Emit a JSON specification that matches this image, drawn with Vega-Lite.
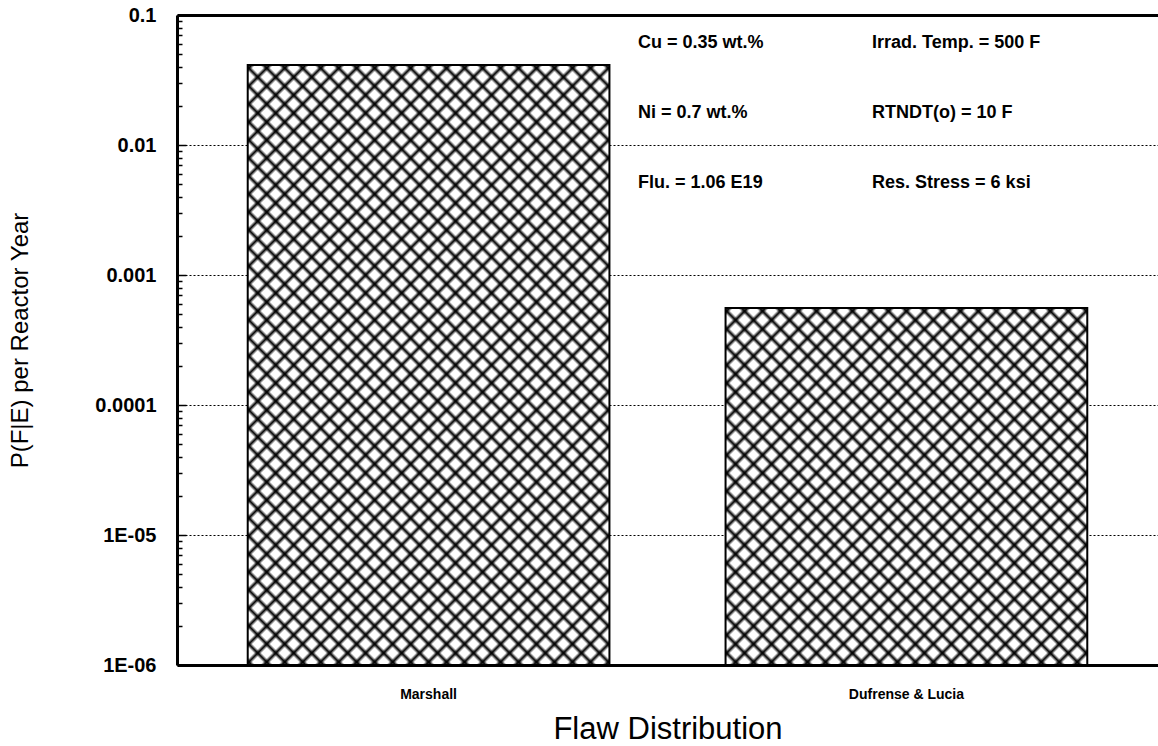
{
 "$schema": "https://vega.github.io/schema/vega-lite/v6.json",
 "width": 981,
 "height": 650,
 "autosize": "none",
 "padding": {"left": 177, "top": 15, "right": 0, "bottom": 81},
 "background": "white",
 "config": {"view": {"stroke": null}, "font": "Liberation Sans"},
 "datasets": {
  "bars": [
   {"dist": "Marshall", "p": 0.0412},
   {"dist": "Dufrense & Lucia", "p": 0.000557}
  ],
  "notes": [
   {"label": "Cu = 0.35 wt.%", "col": 0.47, "p": 0.061},
   {"label": "Irrad. Temp. = 500 F", "col": 0.7085, "p": 0.061},
   {"label": "Ni = 0.7 wt.%", "col": 0.47, "p": 0.0176},
   {"label": "RTNDT(o) = 10 F", "col": 0.7085, "p": 0.0176},
   {"label": "Flu. = 1.06 E19", "col": 0.47, "p": 0.0051},
   {"label": "Res. Stress = 6 ksi", "col": 0.7085, "p": 0.0051}
  ]
 },
 "layer": [
  {
   "data": {"name": "bars"},
   "encoding": {
    "x": {"field": "dist", "type": "nominal", "sort": ["Marshall", "Dufrense & Lucia"],
     "scale": {"paddingInner": 0.243, "paddingOuter": 0.148},
     "axis": {"title": "Flaw Distribution", "titleFontSize": 31, "titleFontWeight": "normal", "titleColor": "#000", "titlePadding": 13,
      "labelAngle": 0, "labelFontSize": 14, "labelFontWeight": "bold", "labelColor": "#000", "labelPadding": 22,
      "ticks": false, "domainWidth": 3, "domainColor": "#000", "grid": false}},
    "y": {"field": "p", "type": "quantitative", "stack": null,
     "scale": {"type": "log", "domain": [0.000001, 0.1], "nice": false},
     "axis": {"title": "P(F|E) per Reactor Year", "titleFontSize": 24, "titleFontWeight": "normal", "titleColor": "#000", "titlePadding": 62,
      "values": [0.000001, 0.000002, 0.000003, 0.000004, 0.000005, 0.000006, 0.000007, 0.000008, 0.000009,
                 0.00001, 0.00002, 0.00003, 0.00004, 0.00005, 0.00006, 0.00007, 0.00008, 0.00009,
                 0.0001, 0.0002, 0.0003, 0.0004, 0.0005, 0.0006, 0.0007, 0.0008, 0.0009,
                 0.001, 0.002, 0.003, 0.004, 0.005, 0.006, 0.007, 0.008, 0.009,
                 0.01, 0.02, 0.03, 0.04, 0.05, 0.06, 0.07, 0.08, 0.09, 0.1],
      "labelExpr": "abs(log(datum.value)/LN10 - round(log(datum.value)/LN10)) > 0.000001 ? '' : (datum.value < 0.000002 ? '1E-06' : datum.value < 0.00002 ? '1E-05' : datum.value < 0.0002 ? '0.0001' : datum.value < 0.002 ? '0.001' : datum.value < 0.02 ? '0.01' : '0.1')",
      "labelOverlap": false, "labelFontSize": 20, "labelFontWeight": "bold", "labelColor": "#000", "labelPadding": 30, "labelBaseline": "middle",
      "domainWidth": 3, "domainColor": "#000",
      "tickColor": "#000", "tickWidth": 1.5,
      "tickSize": {"condition": {"test": "abs(log(datum.value)/LN10 - round(log(datum.value)/LN10)) < 0.000001", "value": -9}, "value": -5},
      "grid": true, "gridColor": "#000", "gridDash": [2, 2], "gridWidth": 1.2,
      "gridOpacity": {"condition": {"test": "abs(log(datum.value)/LN10 - round(log(datum.value)/LN10)) < 0.000001", "value": 1}, "value": 0}}},
    "y2": {"datum": 0.000001}
   },
   "layer": [
    {
     "transform": [{"filter": "datum.dist == 'Marshall'"}],
     "mark": {"type": "bar", "stroke": null, "fill": {"gradient": "linear", "x1": 0, "y1": 0, "x2": 0.7166, "y2": 1.1877, "stops": [
{"offset":0,"color":"#fff"},{"offset":0.0041,"color":"#000"},{"offset":0.0082,"color":"#fff"},
{"offset":0.0185,"color":"#fff"},{"offset":0.0226,"color":"#000"},{"offset":0.0267,"color":"#fff"},
{"offset":0.0370,"color":"#fff"},{"offset":0.0411,"color":"#000"},{"offset":0.0452,"color":"#fff"},
{"offset":0.0556,"color":"#fff"},{"offset":0.0597,"color":"#000"},{"offset":0.0638,"color":"#fff"},
{"offset":0.0741,"color":"#fff"},{"offset":0.0782,"color":"#000"},{"offset":0.0823,"color":"#fff"},
{"offset":0.0926,"color":"#fff"},{"offset":0.0967,"color":"#000"},{"offset":0.1008,"color":"#fff"},
{"offset":0.1111,"color":"#fff"},{"offset":0.1152,"color":"#000"},{"offset":0.1193,"color":"#fff"},
{"offset":0.1296,"color":"#fff"},{"offset":0.1337,"color":"#000"},{"offset":0.1378,"color":"#fff"},
{"offset":0.1481,"color":"#fff"},{"offset":0.1522,"color":"#000"},{"offset":0.1563,"color":"#fff"},
{"offset":0.1667,"color":"#fff"},{"offset":0.1708,"color":"#000"},{"offset":0.1749,"color":"#fff"},
{"offset":0.1852,"color":"#fff"},{"offset":0.1893,"color":"#000"},{"offset":0.1934,"color":"#fff"},
{"offset":0.2037,"color":"#fff"},{"offset":0.2078,"color":"#000"},{"offset":0.2119,"color":"#fff"},
{"offset":0.2222,"color":"#fff"},{"offset":0.2263,"color":"#000"},{"offset":0.2304,"color":"#fff"},
{"offset":0.2407,"color":"#fff"},{"offset":0.2448,"color":"#000"},{"offset":0.2489,"color":"#fff"},
{"offset":0.2593,"color":"#fff"},{"offset":0.2634,"color":"#000"},{"offset":0.2675,"color":"#fff"},
{"offset":0.2778,"color":"#fff"},{"offset":0.2819,"color":"#000"},{"offset":0.2860,"color":"#fff"},
{"offset":0.2963,"color":"#fff"},{"offset":0.3004,"color":"#000"},{"offset":0.3045,"color":"#fff"},
{"offset":0.3148,"color":"#fff"},{"offset":0.3189,"color":"#000"},{"offset":0.3230,"color":"#fff"},
{"offset":0.3333,"color":"#fff"},{"offset":0.3374,"color":"#000"},{"offset":0.3415,"color":"#fff"},
{"offset":0.3519,"color":"#fff"},{"offset":0.3560,"color":"#000"},{"offset":0.3601,"color":"#fff"},
{"offset":0.3704,"color":"#fff"},{"offset":0.3745,"color":"#000"},{"offset":0.3786,"color":"#fff"},
{"offset":0.3889,"color":"#fff"},{"offset":0.3930,"color":"#000"},{"offset":0.3971,"color":"#fff"},
{"offset":0.4074,"color":"#fff"},{"offset":0.4115,"color":"#000"},{"offset":0.4156,"color":"#fff"},
{"offset":0.4259,"color":"#fff"},{"offset":0.4300,"color":"#000"},{"offset":0.4341,"color":"#fff"},
{"offset":0.4444,"color":"#fff"},{"offset":0.4485,"color":"#000"},{"offset":0.4526,"color":"#fff"},
{"offset":0.4630,"color":"#fff"},{"offset":0.4671,"color":"#000"},{"offset":0.4712,"color":"#fff"},
{"offset":0.4815,"color":"#fff"},{"offset":0.4856,"color":"#000"},{"offset":0.4897,"color":"#fff"},
{"offset":0.5000,"color":"#fff"},{"offset":0.5041,"color":"#000"},{"offset":0.5082,"color":"#fff"},
{"offset":0.5185,"color":"#fff"},{"offset":0.5226,"color":"#000"},{"offset":0.5267,"color":"#fff"},
{"offset":0.5370,"color":"#fff"},{"offset":0.5411,"color":"#000"},{"offset":0.5452,"color":"#fff"},
{"offset":0.5556,"color":"#fff"},{"offset":0.5597,"color":"#000"},{"offset":0.5638,"color":"#fff"},
{"offset":0.5741,"color":"#fff"},{"offset":0.5782,"color":"#000"},{"offset":0.5823,"color":"#fff"},
{"offset":0.5926,"color":"#fff"},{"offset":0.5967,"color":"#000"},{"offset":0.6008,"color":"#fff"},
{"offset":0.6111,"color":"#fff"},{"offset":0.6152,"color":"#000"},{"offset":0.6193,"color":"#fff"},
{"offset":0.6296,"color":"#fff"},{"offset":0.6337,"color":"#000"},{"offset":0.6378,"color":"#fff"},
{"offset":0.6481,"color":"#fff"},{"offset":0.6522,"color":"#000"},{"offset":0.6563,"color":"#fff"},
{"offset":0.6667,"color":"#fff"},{"offset":0.6708,"color":"#000"},{"offset":0.6749,"color":"#fff"},
{"offset":0.6852,"color":"#fff"},{"offset":0.6893,"color":"#000"},{"offset":0.6934,"color":"#fff"},
{"offset":0.7037,"color":"#fff"},{"offset":0.7078,"color":"#000"},{"offset":0.7119,"color":"#fff"},
{"offset":0.7222,"color":"#fff"},{"offset":0.7263,"color":"#000"},{"offset":0.7304,"color":"#fff"},
{"offset":0.7407,"color":"#fff"},{"offset":0.7448,"color":"#000"},{"offset":0.7489,"color":"#fff"},
{"offset":0.7593,"color":"#fff"},{"offset":0.7634,"color":"#000"},{"offset":0.7675,"color":"#fff"},
{"offset":0.7778,"color":"#fff"},{"offset":0.7819,"color":"#000"},{"offset":0.7860,"color":"#fff"},
{"offset":0.7963,"color":"#fff"},{"offset":0.8004,"color":"#000"},{"offset":0.8045,"color":"#fff"},
{"offset":0.8148,"color":"#fff"},{"offset":0.8189,"color":"#000"},{"offset":0.8230,"color":"#fff"},
{"offset":0.8333,"color":"#fff"},{"offset":0.8374,"color":"#000"},{"offset":0.8415,"color":"#fff"},
{"offset":0.8519,"color":"#fff"},{"offset":0.8560,"color":"#000"},{"offset":0.8601,"color":"#fff"},
{"offset":0.8704,"color":"#fff"},{"offset":0.8745,"color":"#000"},{"offset":0.8786,"color":"#fff"},
{"offset":0.8889,"color":"#fff"},{"offset":0.8930,"color":"#000"},{"offset":0.8971,"color":"#fff"},
{"offset":0.9074,"color":"#fff"},{"offset":0.9115,"color":"#000"},{"offset":0.9156,"color":"#fff"},
{"offset":0.9259,"color":"#fff"},{"offset":0.9300,"color":"#000"},{"offset":0.9341,"color":"#fff"},
{"offset":0.9444,"color":"#fff"},{"offset":0.9485,"color":"#000"},{"offset":0.9526,"color":"#fff"},
{"offset":0.9630,"color":"#fff"},{"offset":0.9671,"color":"#000"},{"offset":0.9712,"color":"#fff"},
{"offset":0.9815,"color":"#fff"},{"offset":0.9856,"color":"#000"},{"offset":0.9897,"color":"#fff"}
     ]}}
    },
    {
     "transform": [{"filter": "datum.dist == 'Marshall'"}],
     "mark": {"type": "bar", "stroke": "#000", "strokeWidth": 2, "fill": {"gradient": "linear", "x1": 1, "y1": 0, "x2": 0.2834, "y2": 1.1877, "stops": [
{"offset":0,"color":"transparent"},{"offset":0.0041,"color":"#000"},{"offset":0.0082,"color":"transparent"},
{"offset":0.0185,"color":"transparent"},{"offset":0.0226,"color":"#000"},{"offset":0.0267,"color":"transparent"},
{"offset":0.0370,"color":"transparent"},{"offset":0.0411,"color":"#000"},{"offset":0.0452,"color":"transparent"},
{"offset":0.0556,"color":"transparent"},{"offset":0.0597,"color":"#000"},{"offset":0.0638,"color":"transparent"},
{"offset":0.0741,"color":"transparent"},{"offset":0.0782,"color":"#000"},{"offset":0.0823,"color":"transparent"},
{"offset":0.0926,"color":"transparent"},{"offset":0.0967,"color":"#000"},{"offset":0.1008,"color":"transparent"},
{"offset":0.1111,"color":"transparent"},{"offset":0.1152,"color":"#000"},{"offset":0.1193,"color":"transparent"},
{"offset":0.1296,"color":"transparent"},{"offset":0.1337,"color":"#000"},{"offset":0.1378,"color":"transparent"},
{"offset":0.1481,"color":"transparent"},{"offset":0.1522,"color":"#000"},{"offset":0.1563,"color":"transparent"},
{"offset":0.1667,"color":"transparent"},{"offset":0.1708,"color":"#000"},{"offset":0.1749,"color":"transparent"},
{"offset":0.1852,"color":"transparent"},{"offset":0.1893,"color":"#000"},{"offset":0.1934,"color":"transparent"},
{"offset":0.2037,"color":"transparent"},{"offset":0.2078,"color":"#000"},{"offset":0.2119,"color":"transparent"},
{"offset":0.2222,"color":"transparent"},{"offset":0.2263,"color":"#000"},{"offset":0.2304,"color":"transparent"},
{"offset":0.2407,"color":"transparent"},{"offset":0.2448,"color":"#000"},{"offset":0.2489,"color":"transparent"},
{"offset":0.2593,"color":"transparent"},{"offset":0.2634,"color":"#000"},{"offset":0.2675,"color":"transparent"},
{"offset":0.2778,"color":"transparent"},{"offset":0.2819,"color":"#000"},{"offset":0.2860,"color":"transparent"},
{"offset":0.2963,"color":"transparent"},{"offset":0.3004,"color":"#000"},{"offset":0.3045,"color":"transparent"},
{"offset":0.3148,"color":"transparent"},{"offset":0.3189,"color":"#000"},{"offset":0.3230,"color":"transparent"},
{"offset":0.3333,"color":"transparent"},{"offset":0.3374,"color":"#000"},{"offset":0.3415,"color":"transparent"},
{"offset":0.3519,"color":"transparent"},{"offset":0.3560,"color":"#000"},{"offset":0.3601,"color":"transparent"},
{"offset":0.3704,"color":"transparent"},{"offset":0.3745,"color":"#000"},{"offset":0.3786,"color":"transparent"},
{"offset":0.3889,"color":"transparent"},{"offset":0.3930,"color":"#000"},{"offset":0.3971,"color":"transparent"},
{"offset":0.4074,"color":"transparent"},{"offset":0.4115,"color":"#000"},{"offset":0.4156,"color":"transparent"},
{"offset":0.4259,"color":"transparent"},{"offset":0.4300,"color":"#000"},{"offset":0.4341,"color":"transparent"},
{"offset":0.4444,"color":"transparent"},{"offset":0.4485,"color":"#000"},{"offset":0.4526,"color":"transparent"},
{"offset":0.4630,"color":"transparent"},{"offset":0.4671,"color":"#000"},{"offset":0.4712,"color":"transparent"},
{"offset":0.4815,"color":"transparent"},{"offset":0.4856,"color":"#000"},{"offset":0.4897,"color":"transparent"},
{"offset":0.5000,"color":"transparent"},{"offset":0.5041,"color":"#000"},{"offset":0.5082,"color":"transparent"},
{"offset":0.5185,"color":"transparent"},{"offset":0.5226,"color":"#000"},{"offset":0.5267,"color":"transparent"},
{"offset":0.5370,"color":"transparent"},{"offset":0.5411,"color":"#000"},{"offset":0.5452,"color":"transparent"},
{"offset":0.5556,"color":"transparent"},{"offset":0.5597,"color":"#000"},{"offset":0.5638,"color":"transparent"},
{"offset":0.5741,"color":"transparent"},{"offset":0.5782,"color":"#000"},{"offset":0.5823,"color":"transparent"},
{"offset":0.5926,"color":"transparent"},{"offset":0.5967,"color":"#000"},{"offset":0.6008,"color":"transparent"},
{"offset":0.6111,"color":"transparent"},{"offset":0.6152,"color":"#000"},{"offset":0.6193,"color":"transparent"},
{"offset":0.6296,"color":"transparent"},{"offset":0.6337,"color":"#000"},{"offset":0.6378,"color":"transparent"},
{"offset":0.6481,"color":"transparent"},{"offset":0.6522,"color":"#000"},{"offset":0.6563,"color":"transparent"},
{"offset":0.6667,"color":"transparent"},{"offset":0.6708,"color":"#000"},{"offset":0.6749,"color":"transparent"},
{"offset":0.6852,"color":"transparent"},{"offset":0.6893,"color":"#000"},{"offset":0.6934,"color":"transparent"},
{"offset":0.7037,"color":"transparent"},{"offset":0.7078,"color":"#000"},{"offset":0.7119,"color":"transparent"},
{"offset":0.7222,"color":"transparent"},{"offset":0.7263,"color":"#000"},{"offset":0.7304,"color":"transparent"},
{"offset":0.7407,"color":"transparent"},{"offset":0.7448,"color":"#000"},{"offset":0.7489,"color":"transparent"},
{"offset":0.7593,"color":"transparent"},{"offset":0.7634,"color":"#000"},{"offset":0.7675,"color":"transparent"},
{"offset":0.7778,"color":"transparent"},{"offset":0.7819,"color":"#000"},{"offset":0.7860,"color":"transparent"},
{"offset":0.7963,"color":"transparent"},{"offset":0.8004,"color":"#000"},{"offset":0.8045,"color":"transparent"},
{"offset":0.8148,"color":"transparent"},{"offset":0.8189,"color":"#000"},{"offset":0.8230,"color":"transparent"},
{"offset":0.8333,"color":"transparent"},{"offset":0.8374,"color":"#000"},{"offset":0.8415,"color":"transparent"},
{"offset":0.8519,"color":"transparent"},{"offset":0.8560,"color":"#000"},{"offset":0.8601,"color":"transparent"},
{"offset":0.8704,"color":"transparent"},{"offset":0.8745,"color":"#000"},{"offset":0.8786,"color":"transparent"},
{"offset":0.8889,"color":"transparent"},{"offset":0.8930,"color":"#000"},{"offset":0.8971,"color":"transparent"},
{"offset":0.9074,"color":"transparent"},{"offset":0.9115,"color":"#000"},{"offset":0.9156,"color":"transparent"},
{"offset":0.9259,"color":"transparent"},{"offset":0.9300,"color":"#000"},{"offset":0.9341,"color":"transparent"},
{"offset":0.9444,"color":"transparent"},{"offset":0.9485,"color":"#000"},{"offset":0.9526,"color":"transparent"},
{"offset":0.9630,"color":"transparent"},{"offset":0.9671,"color":"#000"},{"offset":0.9712,"color":"transparent"},
{"offset":0.9815,"color":"transparent"},{"offset":0.9856,"color":"#000"},{"offset":0.9897,"color":"transparent"}
     ]}}
    },
    {
     "transform": [{"filter": "datum.dist == 'Dufrense & Lucia'"}],
     "mark": {"type": "bar", "stroke": null, "fill": {"gradient": "linear", "x1": 0, "y1": 0, "x2": 1.0083, "y2": 0.9944, "stops": [
{"offset":0,"color":"#fff"},{"offset":0.0056,"color":"#000"},{"offset":0.0111,"color":"#fff"},
{"offset":0.025,"color":"#fff"},{"offset":0.0306,"color":"#000"},{"offset":0.0361,"color":"#fff"},
{"offset":0.05,"color":"#fff"},{"offset":0.0556,"color":"#000"},{"offset":0.0611,"color":"#fff"},
{"offset":0.075,"color":"#fff"},{"offset":0.0806,"color":"#000"},{"offset":0.0861,"color":"#fff"},
{"offset":0.1,"color":"#fff"},{"offset":0.1056,"color":"#000"},{"offset":0.1111,"color":"#fff"},
{"offset":0.125,"color":"#fff"},{"offset":0.1306,"color":"#000"},{"offset":0.1361,"color":"#fff"},
{"offset":0.15,"color":"#fff"},{"offset":0.1556,"color":"#000"},{"offset":0.1611,"color":"#fff"},
{"offset":0.175,"color":"#fff"},{"offset":0.1806,"color":"#000"},{"offset":0.1861,"color":"#fff"},
{"offset":0.2,"color":"#fff"},{"offset":0.2056,"color":"#000"},{"offset":0.2111,"color":"#fff"},
{"offset":0.225,"color":"#fff"},{"offset":0.2306,"color":"#000"},{"offset":0.2361,"color":"#fff"},
{"offset":0.25,"color":"#fff"},{"offset":0.2556,"color":"#000"},{"offset":0.2611,"color":"#fff"},
{"offset":0.275,"color":"#fff"},{"offset":0.2806,"color":"#000"},{"offset":0.2861,"color":"#fff"},
{"offset":0.3,"color":"#fff"},{"offset":0.3056,"color":"#000"},{"offset":0.3111,"color":"#fff"},
{"offset":0.325,"color":"#fff"},{"offset":0.3306,"color":"#000"},{"offset":0.3361,"color":"#fff"},
{"offset":0.35,"color":"#fff"},{"offset":0.3556,"color":"#000"},{"offset":0.3611,"color":"#fff"},
{"offset":0.375,"color":"#fff"},{"offset":0.3806,"color":"#000"},{"offset":0.3861,"color":"#fff"},
{"offset":0.4,"color":"#fff"},{"offset":0.4056,"color":"#000"},{"offset":0.4111,"color":"#fff"},
{"offset":0.425,"color":"#fff"},{"offset":0.4306,"color":"#000"},{"offset":0.4361,"color":"#fff"},
{"offset":0.45,"color":"#fff"},{"offset":0.4556,"color":"#000"},{"offset":0.4611,"color":"#fff"},
{"offset":0.475,"color":"#fff"},{"offset":0.4806,"color":"#000"},{"offset":0.4861,"color":"#fff"},
{"offset":0.5,"color":"#fff"},{"offset":0.5056,"color":"#000"},{"offset":0.5111,"color":"#fff"},
{"offset":0.525,"color":"#fff"},{"offset":0.5306,"color":"#000"},{"offset":0.5361,"color":"#fff"},
{"offset":0.55,"color":"#fff"},{"offset":0.5556,"color":"#000"},{"offset":0.5611,"color":"#fff"},
{"offset":0.575,"color":"#fff"},{"offset":0.5806,"color":"#000"},{"offset":0.5861,"color":"#fff"},
{"offset":0.6,"color":"#fff"},{"offset":0.6056,"color":"#000"},{"offset":0.6111,"color":"#fff"},
{"offset":0.625,"color":"#fff"},{"offset":0.6306,"color":"#000"},{"offset":0.6361,"color":"#fff"},
{"offset":0.65,"color":"#fff"},{"offset":0.6556,"color":"#000"},{"offset":0.6611,"color":"#fff"},
{"offset":0.675,"color":"#fff"},{"offset":0.6806,"color":"#000"},{"offset":0.6861,"color":"#fff"},
{"offset":0.7,"color":"#fff"},{"offset":0.7056,"color":"#000"},{"offset":0.7111,"color":"#fff"},
{"offset":0.725,"color":"#fff"},{"offset":0.7306,"color":"#000"},{"offset":0.7361,"color":"#fff"},
{"offset":0.75,"color":"#fff"},{"offset":0.7556,"color":"#000"},{"offset":0.7611,"color":"#fff"},
{"offset":0.775,"color":"#fff"},{"offset":0.7806,"color":"#000"},{"offset":0.7861,"color":"#fff"},
{"offset":0.8,"color":"#fff"},{"offset":0.8056,"color":"#000"},{"offset":0.8111,"color":"#fff"},
{"offset":0.825,"color":"#fff"},{"offset":0.8306,"color":"#000"},{"offset":0.8361,"color":"#fff"},
{"offset":0.85,"color":"#fff"},{"offset":0.8556,"color":"#000"},{"offset":0.8611,"color":"#fff"},
{"offset":0.875,"color":"#fff"},{"offset":0.8806,"color":"#000"},{"offset":0.8861,"color":"#fff"},
{"offset":0.9,"color":"#fff"},{"offset":0.9056,"color":"#000"},{"offset":0.9111,"color":"#fff"},
{"offset":0.925,"color":"#fff"},{"offset":0.9306,"color":"#000"},{"offset":0.9361,"color":"#fff"},
{"offset":0.95,"color":"#fff"},{"offset":0.9556,"color":"#000"},{"offset":0.9611,"color":"#fff"},
{"offset":0.975,"color":"#fff"},{"offset":0.9806,"color":"#000"},{"offset":0.9861,"color":"#fff"}
     ]}}
    },
    {
     "transform": [{"filter": "datum.dist == 'Dufrense & Lucia'"}],
     "mark": {"type": "bar", "stroke": "#000", "strokeWidth": 2, "fill": {"gradient": "linear", "x1": 1, "y1": 0, "x2": -0.0083, "y2": 0.9944, "stops": [
{"offset":0,"color":"transparent"},{"offset":0.0056,"color":"#000"},{"offset":0.0111,"color":"transparent"},
{"offset":0.025,"color":"transparent"},{"offset":0.0306,"color":"#000"},{"offset":0.0361,"color":"transparent"},
{"offset":0.05,"color":"transparent"},{"offset":0.0556,"color":"#000"},{"offset":0.0611,"color":"transparent"},
{"offset":0.075,"color":"transparent"},{"offset":0.0806,"color":"#000"},{"offset":0.0861,"color":"transparent"},
{"offset":0.1,"color":"transparent"},{"offset":0.1056,"color":"#000"},{"offset":0.1111,"color":"transparent"},
{"offset":0.125,"color":"transparent"},{"offset":0.1306,"color":"#000"},{"offset":0.1361,"color":"transparent"},
{"offset":0.15,"color":"transparent"},{"offset":0.1556,"color":"#000"},{"offset":0.1611,"color":"transparent"},
{"offset":0.175,"color":"transparent"},{"offset":0.1806,"color":"#000"},{"offset":0.1861,"color":"transparent"},
{"offset":0.2,"color":"transparent"},{"offset":0.2056,"color":"#000"},{"offset":0.2111,"color":"transparent"},
{"offset":0.225,"color":"transparent"},{"offset":0.2306,"color":"#000"},{"offset":0.2361,"color":"transparent"},
{"offset":0.25,"color":"transparent"},{"offset":0.2556,"color":"#000"},{"offset":0.2611,"color":"transparent"},
{"offset":0.275,"color":"transparent"},{"offset":0.2806,"color":"#000"},{"offset":0.2861,"color":"transparent"},
{"offset":0.3,"color":"transparent"},{"offset":0.3056,"color":"#000"},{"offset":0.3111,"color":"transparent"},
{"offset":0.325,"color":"transparent"},{"offset":0.3306,"color":"#000"},{"offset":0.3361,"color":"transparent"},
{"offset":0.35,"color":"transparent"},{"offset":0.3556,"color":"#000"},{"offset":0.3611,"color":"transparent"},
{"offset":0.375,"color":"transparent"},{"offset":0.3806,"color":"#000"},{"offset":0.3861,"color":"transparent"},
{"offset":0.4,"color":"transparent"},{"offset":0.4056,"color":"#000"},{"offset":0.4111,"color":"transparent"},
{"offset":0.425,"color":"transparent"},{"offset":0.4306,"color":"#000"},{"offset":0.4361,"color":"transparent"},
{"offset":0.45,"color":"transparent"},{"offset":0.4556,"color":"#000"},{"offset":0.4611,"color":"transparent"},
{"offset":0.475,"color":"transparent"},{"offset":0.4806,"color":"#000"},{"offset":0.4861,"color":"transparent"},
{"offset":0.5,"color":"transparent"},{"offset":0.5056,"color":"#000"},{"offset":0.5111,"color":"transparent"},
{"offset":0.525,"color":"transparent"},{"offset":0.5306,"color":"#000"},{"offset":0.5361,"color":"transparent"},
{"offset":0.55,"color":"transparent"},{"offset":0.5556,"color":"#000"},{"offset":0.5611,"color":"transparent"},
{"offset":0.575,"color":"transparent"},{"offset":0.5806,"color":"#000"},{"offset":0.5861,"color":"transparent"},
{"offset":0.6,"color":"transparent"},{"offset":0.6056,"color":"#000"},{"offset":0.6111,"color":"transparent"},
{"offset":0.625,"color":"transparent"},{"offset":0.6306,"color":"#000"},{"offset":0.6361,"color":"transparent"},
{"offset":0.65,"color":"transparent"},{"offset":0.6556,"color":"#000"},{"offset":0.6611,"color":"transparent"},
{"offset":0.675,"color":"transparent"},{"offset":0.6806,"color":"#000"},{"offset":0.6861,"color":"transparent"},
{"offset":0.7,"color":"transparent"},{"offset":0.7056,"color":"#000"},{"offset":0.7111,"color":"transparent"},
{"offset":0.725,"color":"transparent"},{"offset":0.7306,"color":"#000"},{"offset":0.7361,"color":"transparent"},
{"offset":0.75,"color":"transparent"},{"offset":0.7556,"color":"#000"},{"offset":0.7611,"color":"transparent"},
{"offset":0.775,"color":"transparent"},{"offset":0.7806,"color":"#000"},{"offset":0.7861,"color":"transparent"},
{"offset":0.8,"color":"transparent"},{"offset":0.8056,"color":"#000"},{"offset":0.8111,"color":"transparent"},
{"offset":0.825,"color":"transparent"},{"offset":0.8306,"color":"#000"},{"offset":0.8361,"color":"transparent"},
{"offset":0.85,"color":"transparent"},{"offset":0.8556,"color":"#000"},{"offset":0.8611,"color":"transparent"},
{"offset":0.875,"color":"transparent"},{"offset":0.8806,"color":"#000"},{"offset":0.8861,"color":"transparent"},
{"offset":0.9,"color":"transparent"},{"offset":0.9056,"color":"#000"},{"offset":0.9111,"color":"transparent"},
{"offset":0.925,"color":"transparent"},{"offset":0.9306,"color":"#000"},{"offset":0.9361,"color":"transparent"},
{"offset":0.95,"color":"transparent"},{"offset":0.9556,"color":"#000"},{"offset":0.9611,"color":"transparent"},
{"offset":0.975,"color":"transparent"},{"offset":0.9806,"color":"#000"},{"offset":0.9861,"color":"transparent"}
     ]}}
    }
   ]
  },
  {
   "data": {"name": "notes"},
   "mark": {"type": "text", "align": "left", "baseline": "middle", "fontSize": 18, "fontWeight": "bold", "color": "#000"},
   "encoding": {
    "x": {"field": "col", "type": "quantitative", "scale": {"domain": [0, 1], "nice": false, "zero": false},
     "axis": {"orient": "top", "labels": false, "ticks": false, "grid": false, "title": null, "domainWidth": 3, "domainColor": "#000"}},
    "y": {"field": "p", "type": "quantitative"},
    "text": {"field": "label"}
   }
  }
 ],
 "resolve": {"scale": {"x": "independent"}}
}
